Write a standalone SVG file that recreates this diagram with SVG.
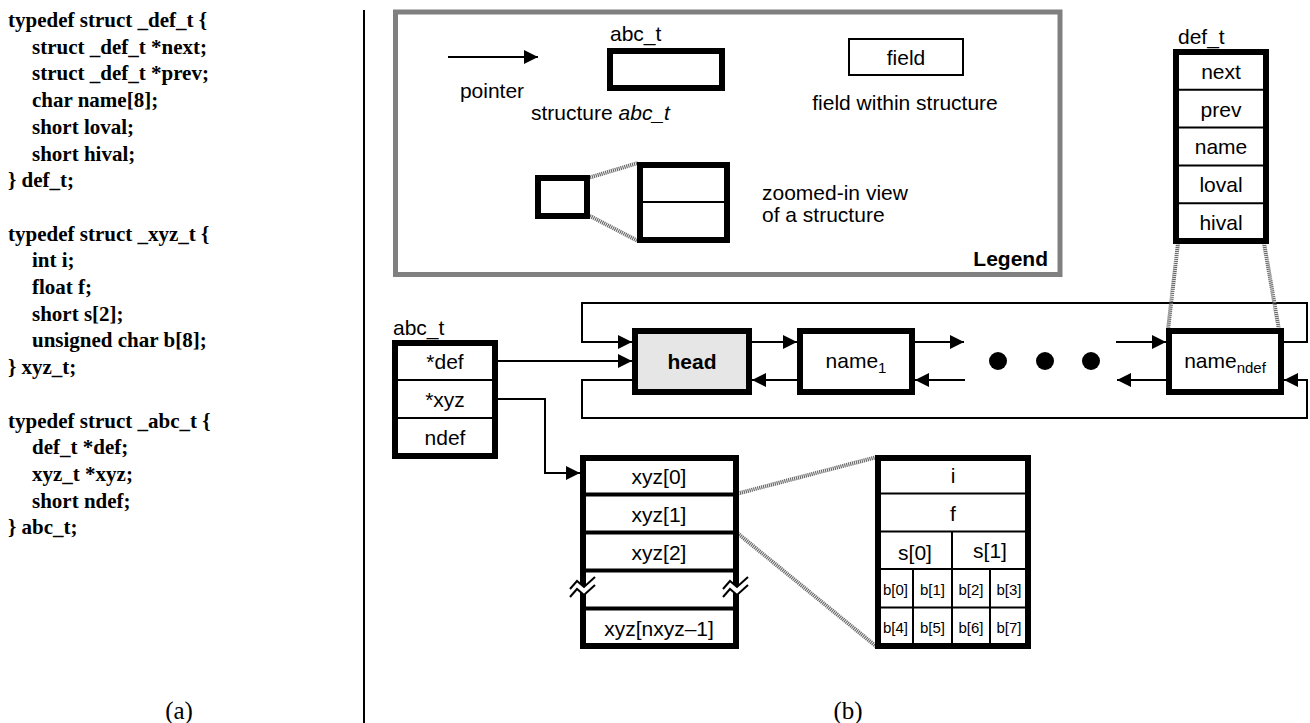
<svg xmlns="http://www.w3.org/2000/svg" width="1310" height="723" viewBox="0 0 1310 723">
<defs>
<style>
.code{font-family:"Liberation Serif","Times New Roman",serif;font-weight:bold;font-size:21px;fill:#000}
.lbl{font-family:"Liberation Sans",Arial,sans-serif;font-size:21px;fill:#000}
.mid{text-anchor:middle;dominant-baseline:central}
.sm{font-family:"Liberation Sans",Arial,sans-serif;font-size:15px;fill:#000;text-anchor:middle;dominant-baseline:central}
.cap{font-family:"Liberation Serif","Times New Roman",serif;font-size:25px;fill:#000;text-anchor:middle}
.thick{fill:#fff;stroke:#000;stroke-width:6}
.thin{fill:none;stroke:#000;stroke-width:2}
.div4{stroke:#000;stroke-width:4}
.hatch{fill:none;stroke:#6a6a6a;stroke-width:4;stroke-dasharray:1.2 0.8}
.conn{fill:none;stroke:#000;stroke-width:2}
.arr{marker-end:url(#ah)}
</style>
<marker id="ah" markerUnits="userSpaceOnUse" markerWidth="14" markerHeight="14" refX="14" refY="7" orient="auto">
<path d="M0,0 L14,7 L0,14 z" fill="#000"/>
</marker>
</defs>
<rect width="1310" height="723" fill="#fff"/>

<g id="code">
<text class="code">
<tspan x="8" y="27">typedef struct _def_t {</tspan>
<tspan x="32" y="53.7">struct _def_t *next;</tspan>
<tspan x="32" y="80.4">struct _def_t *prev;</tspan>
<tspan x="32" y="107.1">char name[8];</tspan>
<tspan x="32" y="133.8">short loval;</tspan>
<tspan x="32" y="160.5">short hival;</tspan>
<tspan x="8" y="187.2">} def_t;</tspan>
<tspan x="8" y="240.6">typedef struct _xyz_t {</tspan>
<tspan x="32" y="267.3">int i;</tspan>
<tspan x="32" y="294">float f;</tspan>
<tspan x="32" y="320.7">short s[2];</tspan>
<tspan x="32" y="347.4">unsigned char b[8];</tspan>
<tspan x="8" y="374.1">} xyz_t;</tspan>
<tspan x="8" y="427.5">typedef struct _abc_t {</tspan>
<tspan x="32" y="454.2">def_t *def;</tspan>
<tspan x="32" y="480.9">xyz_t *xyz;</tspan>
<tspan x="32" y="507.6">short ndef;</tspan>
<tspan x="8" y="534.3">} abc_t;</tspan>
</text>
</g>

<g id="divider">
<line x1="364" y1="10" x2="364" y2="723" stroke="#000" stroke-width="2"/>
</g>
<g id="captions">
<text class="cap" x="179" y="719">(a)</text>
<text class="cap" x="848" y="719">(b)</text>
</g>

<g id="legend">
<rect x="395.5" y="12" width="664.5" height="262.5" fill="none" stroke="#808080" stroke-width="5"/>
<line class="conn arr" x1="448" y1="57" x2="538" y2="57"/>
<text class="lbl mid" x="492" y="90">pointer</text>
<text class="lbl" x="610" y="33" dominant-baseline="central">abc_t</text>
<rect class="thick" x="610" y="51" width="112" height="37"/>
<text class="lbl" x="531" y="112" dominant-baseline="central">structure <tspan font-style="italic">abc_t</tspan></text>
<rect x="849" y="39" width="114" height="36" fill="#fff" stroke="#000" stroke-width="2"/>
<text class="lbl mid" x="906" y="57">field</text>
<text class="lbl mid" x="905" y="102">field within structure</text>
<line class="hatch" x1="588" y1="178" x2="638" y2="163"/>
<line class="hatch" x1="588" y1="215" x2="638" y2="241"/>
<rect class="thick" x="538" y="178" width="49" height="38"/>
<rect class="thick" x="640" y="165" width="87" height="75"/>
<line class="thin" x1="640" y1="202" x2="727" y2="202"/>
<text class="lbl" x="762" y="192" dominant-baseline="central">zoomed-in view</text>
<text class="lbl" x="762" y="214" dominant-baseline="central">of a structure</text>
<text class="lbl" x="1048" y="258" text-anchor="end" dominant-baseline="central" font-weight="bold">Legend</text>
</g>

<g id="connectors">
<line class="conn arr" x1="497" y1="361" x2="632" y2="361"/>
<polyline class="conn arr" points="497,399 545,399 545,473 580,473"/>
<polyline class="conn arr" points="1284,342 1307,342 1307,303 582,303 582,342 632,342"/>
<polyline class="conn arr" points="632,380 582,380 582,418 1307,418 1307,380 1284,380"/>
<line class="conn arr" x1="752" y1="342" x2="797" y2="342"/>
<line class="conn arr" x1="797" y1="380" x2="752" y2="380"/>
<line class="conn arr" x1="915" y1="342" x2="964" y2="342"/>
<line class="conn arr" x1="965" y1="380" x2="915" y2="380"/>
<line class="conn arr" x1="1116" y1="342" x2="1166" y2="342"/>
<line class="conn arr" x1="1166" y1="380" x2="1117" y2="380"/>
<line class="hatch" x1="1178" y1="243" x2="1168" y2="330"/>
<line class="hatch" x1="1264" y1="243" x2="1279" y2="330"/>
<line class="hatch" x1="736" y1="494" x2="877" y2="457"/>
<line class="hatch" x1="736" y1="532" x2="877" y2="647"/>
</g>

<g id="def_t">
<text class="lbl" x="1178" y="36" dominant-baseline="central">def_t</text>
<rect class="thick" x="1176" y="52" width="90" height="189"/>
<line class="thin" x1="1176" y1="89.8" x2="1266" y2="89.8"/>
<line class="thin" x1="1176" y1="127.6" x2="1266" y2="127.6"/>
<line class="thin" x1="1176" y1="165.4" x2="1266" y2="165.4"/>
<line class="thin" x1="1176" y1="203.2" x2="1266" y2="203.2"/>
<text class="lbl mid" x="1221" y="71">next</text>
<text class="lbl mid" x="1221" y="109">prev</text>
<text class="lbl mid" x="1221" y="146.5">name</text>
<text class="lbl mid" x="1221" y="184.5">loval</text>
<text class="lbl mid" x="1221" y="222">hival</text>
</g>

<g id="abc_t">
<text class="lbl" x="393" y="327" dominant-baseline="central">abc_t</text>
<rect class="thick" x="395" y="343" width="100" height="113"/>
<line class="thin" x1="395" y1="380" x2="495" y2="380"/>
<line class="thin" x1="395" y1="418" x2="495" y2="418"/>
<text class="lbl mid" x="445" y="361">*def</text>
<text class="lbl mid" x="445" y="399">*xyz</text>
<text class="lbl mid" x="445" y="437">ndef</text>
</g>

<g id="head">
<rect x="635" y="331" width="114" height="61" fill="#e6e6e6" stroke="#000" stroke-width="6"/>
<text class="lbl mid" x="692" y="361" font-weight="bold">head</text>
</g>

<g id="name1">
<rect class="thick" x="800" y="331" width="112" height="61"/>
<text class="lbl" x="856" y="368" text-anchor="middle">name<tspan font-size="15" dy="5">1</tspan></text>
</g>

<g id="dots">
<circle cx="998" cy="361" r="9" fill="#000"/>
<circle cx="1045" cy="361" r="9" fill="#000"/>
<circle cx="1091" cy="361" r="9" fill="#000"/>
</g>

<g id="name_ndef">
<rect class="thick" x="1169" y="331" width="112" height="61"/>
<text class="lbl" x="1225" y="368" text-anchor="middle">name<tspan font-size="15" dy="5">ndef</tspan></text>
</g>

<g id="xyz_array">
<rect class="thick" x="583" y="458" width="153" height="188"/>
<line class="div4" x1="583" y1="494.5" x2="736" y2="494.5"/>
<line class="div4" x1="583" y1="532.5" x2="736" y2="532.5"/>
<line class="div4" x1="583" y1="570.5" x2="736" y2="570.5"/>
<line class="div4" x1="583" y1="608.5" x2="736" y2="608.5"/>
<text class="lbl mid" x="659" y="476">xyz[0]</text>
<text class="lbl mid" x="659" y="514">xyz[1]</text>
<text class="lbl mid" x="659" y="552">xyz[2]</text>
<text class="lbl mid" x="659" y="628">xyz[nxyz–1]</text>
<polygon points="570,589 577,581 584,587 595,577 595,585 584,595 577,589 570,597" fill="#fff"/>
<polyline class="thin" points="570,589 577,581 584,587 595,577"/>
<polyline class="thin" points="570,597 577,589 584,595 595,585"/>
<polygon points="723,589 730,581 737,587 748,577 748,585 737,595 730,589 723,597" fill="#fff"/>
<polyline class="thin" points="723,589 730,581 737,587 748,577"/>
<polyline class="thin" points="723,597 730,589 737,595 748,585"/>
</g>

<g id="xyz_zoom">
<rect class="thick" x="878" y="458" width="150" height="188"/>
<line class="thin" x1="878" y1="493.5" x2="1028" y2="493.5"/>
<line class="thin" x1="878" y1="531.5" x2="1028" y2="531.5"/>
<line class="thin" x1="878" y1="569" x2="1028" y2="569"/>
<line class="thin" x1="878" y1="607.5" x2="1028" y2="607.5"/>
<line class="thin" x1="952" y1="531.5" x2="952" y2="646"/>
<line class="thin" x1="913" y1="569" x2="913" y2="646"/>
<line class="thin" x1="990" y1="569" x2="990" y2="646"/>
<text class="lbl mid" x="953" y="475">i</text>
<text class="lbl mid" x="953" y="513">f</text>
<text class="lbl mid" x="915" y="552">s[0]</text>
<text class="lbl mid" x="990" y="550">s[1]</text>
<text class="sm" x="895.5" y="589">b[0]</text>
<text class="sm" x="932.5" y="589">b[1]</text>
<text class="sm" x="971" y="589">b[2]</text>
<text class="sm" x="1009" y="589">b[3]</text>
<text class="sm" x="895.5" y="627">b[4]</text>
<text class="sm" x="932.5" y="627">b[5]</text>
<text class="sm" x="971" y="627">b[6]</text>
<text class="sm" x="1009" y="627">b[7]</text>
</g>
</svg>
